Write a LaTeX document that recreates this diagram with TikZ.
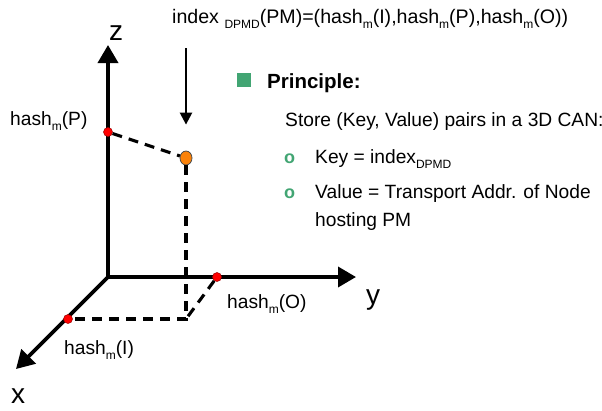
\documentclass[tikz,border=0pt]{standalone}
\usepackage{fontspec}
\setmainfont{Liberation Sans}
\usetikzlibrary{arrows.meta,shapes.geometric}
\definecolor{pgreen}{RGB}{66,165,115}
\definecolor{dotorange}{RGB}{250,130,10}
\newcommand\sbs[1]{\raisebox{-0.3em}{\fontsize{12}{12}\selectfont #1}}
\tikzset{bigtip/.tip={Triangle[length=18pt,width=20pt]}}
\begin{document}
\begin{tikzpicture}[x=1pt,y=-1pt,
  axisline/.style={line width=3.6pt},
  dashline/.style={line width=3.1pt,dash pattern=on 10pt off 7pt},
  reddot/.style={circle,fill=red,draw=red!60!black,line width=0.5pt,inner sep=0pt,minimum size=9pt},
  orangedot/.style={ellipse,fill=dotorange,draw=black!70,line width=0.8pt,inner sep=0pt,minimum width=12pt,minimum height=14pt},
  txt/.style={font=\fontsize{19.2}{23}\selectfont,anchor=base west,inner sep=0pt},
  bullet/.style={font=\bfseries\fontsize{18}{20}\selectfont,anchor=base west,inner sep=0pt,text=pgreen},
  axlabel/.style={font=\fontsize{28}{30}\selectfont,anchor=base,inner sep=0pt}]
\useasboundingbox (0,0) rectangle (602,410);
% axes
\coordinate (O) at (108,277);
\coordinate (Zt) at (108,45);
\coordinate (Yt) at (356,277);
\coordinate (Xt) at (16,369);
\draw[axisline,bigtip-bigtip] (Zt) -- (O) -- (Yt);
\draw[axisline,-bigtip] (O) -- (Xt);
% points
\node[reddot] (P) at (108,132) {};
\node[reddot] (Od) at (217,277) {};
\node[reddot] (I) at (68,319) {};
\node[orangedot] (PM) at (186,158) {};
\coordinate (C) at (186,319);
\draw[dashline] (P) -- (PM);
\draw[dashline] (PM) -- (C) -- (I);
\draw[dashline] (Od) -- (C);
% top formula
\node[txt,font=\fontsize{19.6}{23}\selectfont] (top) at (172,23) {index \sbs{DPMD}(PM)=(hash\sbs{m}(I),hash\sbs{m}(P),hash\sbs{m}(O))};
\coordinate (arrstart) at (186,48);
\draw[line width=2.4pt,-{Triangle[length=12pt,width=12pt]},shorten >=26pt] (arrstart) -- (PM);
% axis labels
\node[axlabel] (zl) at (116,40) {z};
\node[axlabel] (yl) at (373,304) {y};
\node[axlabel] (xl) at (18,403) {x};
\node[txt] (lP) at (10,125) {hash\sbs{m}(P)};
\node[txt] (lO) at (227,308) {hash\sbs{m}(O)};
\node[txt] (lI) at (64,354) {hash\sbs{m}(I)};
% principle
\node[fill=pgreen,minimum size=14pt,inner sep=0pt] (sq) at (244,80) {};
\node[txt,font=\bfseries\fontsize{20.5}{24}\selectfont] (princ) at (267,88) {Principle:};
\node[txt] (store) at (285,126) {Store (Key, Value) pairs in a 3D CAN:};
\node[bullet] (b1) at (284,163) {o};
\node[txt] (key) at (315,163) {Key = index\sbs{DPMD}};
\node[bullet] (b2) at (284,198) {o};
\node[txt] (val) at (315,198) {Value = Transport Addr. of Node};
\node[txt] (host) at (315,226) {hosting PM};
\end{tikzpicture}
\end{document}
